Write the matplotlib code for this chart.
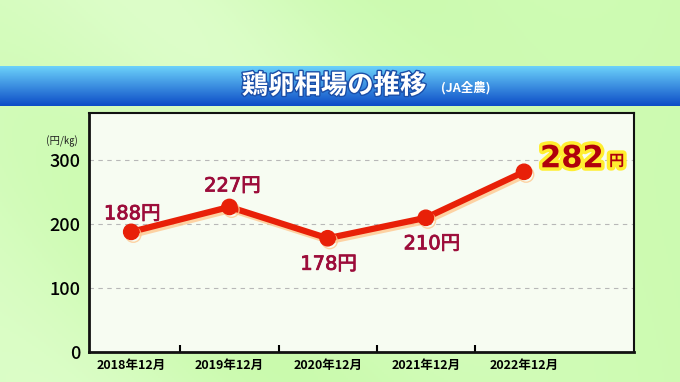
import numpy as np
import matplotlib
matplotlib.use("Agg")
from matplotlib import pyplot as plt
from matplotlib import patheffects as pe

plt.rcParams['font.family'] = ['Noto Sans CJK JP', 'DejaVu Sans']

# data
months = ['2018年12月', '2019年12月', '2020年12月', '2021年12月', '2022年12月']
prices = [188, 227, 178, 210, 282]
price_labels = ['188円', '227円', '178円', '210円', '282円']
yticks = [0, 100, 200, 300]

fig = plt.figure(figsize=(6.8, 3.82), dpi=100)

# green background with soft light streaks
bg = fig.add_axes([0, 0, 1, 1], zorder=-10)
h, w = 191, 340
yy, xx = np.mgrid[0:h, 0:w] / np.array([h, w])[:, None, None]
base = np.array([0.78, 0.98, 0.66])
light = np.array([0.90, 1.0, 0.84])
mix = 0.5 + 0.35 * np.sin(6 * (xx * 1.2 - yy * 0.8)) * np.exp(-((xx - 0.35) ** 2) / 0.15)
mix = np.clip(mix, 0, 1) * (1 - 0.6 * xx)
img = base[None, None, :] * (1 - mix[..., None]) + light[None, None, :] * mix[..., None]
bg.imshow(img, aspect='auto', extent=[0, 1, 0, 1], origin='upper')
bg.set_xlim(0, 1)
bg.set_ylim(0, 1)
bg.axis('off')

# blue title band
band = fig.add_axes([0, 1 - 106 / 382, 1, 40 / 382], zorder=-5)
g = np.linspace(0, 1, 64)[:, None]
top = np.array([0.42, 0.82, 0.98])
bot = np.array([0.05, 0.30, 0.78])
cols = top * (1 - g[..., None]) + bot * g[..., None]
cols = np.repeat(cols, 4, axis=1)
band.imshow(cols, aspect='auto', extent=[0, 1, 0, 1], origin='upper')
band.axis('off')

fig.text(334 / 680, 1 - 86 / 382, '鶏卵相場の推移', color='white', fontsize=19,
         fontweight='bold', ha='center', va='center',
         path_effects=[pe.withStroke(linewidth=2, foreground='#1a4ea8')])
fig.text(466 / 680, 1 - 88 / 382, '(JA全農)', color='white', fontsize=9,
         fontweight='bold', ha='center', va='center')

# chart area
ax = fig.add_axes([89 / 680, 1 - 352 / 382, 545 / 680, 239 / 382])
ax.set_facecolor('#f7fcf2')
x = np.arange(len(prices))
ax.plot(x, prices, color='#e82008', lw=4.5, marker='o', ms=11,
        solid_capstyle='round', zorder=3,
        path_effects=[pe.SimpleLineShadow(offset=(1.5, -2), shadow_color='#ffc890', alpha=0.8),
                      pe.Normal()])
ax.set_xlim(-0.43, 5.12)
ax.set_ylim(0, 374)

ax.set_yticks(yticks)
ax.set_yticklabels([str(v) for v in yticks], fontsize=13, fontweight='medium')
for v in yticks[1:]:
    ax.axhline(v, color='#b8b8b8', lw=0.8, ls=(0, (4, 4)), zorder=1)

ax.set_xticks(np.arange(len(prices) - 1) + 0.5)
ax.set_xticks(np.arange(len(prices)), minor=True)
ax.set_xticklabels([])
ax.set_xticklabels(months, minor=True, fontsize=9, fontweight='bold')
ax.tick_params(axis='x', which='major', length=5, width=1.5, direction='in')
ax.tick_params(axis='x', which='minor', length=0, pad=5)
ax.tick_params(axis='y', length=0, pad=6)
for s in ax.spines.values():
    s.set_color('#111111')
    s.set_linewidth(1.5)
ax.spines['bottom'].set_linewidth(2)
ax.spines['left'].set_linewidth(2)

lab_font = ['DejaVu Sans', 'Noto Sans CJK JP']
offsets = [(1, 18), (3, 21), (1, -26), (6, -26)]
for i, (dx, dy) in enumerate(offsets):
    ax.annotate(price_labels[i], (x[i], prices[i]), xytext=(dx, dy),
                textcoords='offset pixels', ha='center', va='center',
                fontsize=14, color='#9c0c3a', family=lab_font, zorder=4,
                path_effects=[pe.withStroke(linewidth=0.6, foreground='#9c0c3a')])

# last value highlighted
glow = [pe.withStroke(linewidth=5, foreground='#ffee30')]
ax.annotate('282', (x[4], prices[4]), xytext=(16, 13), textcoords='offset pixels',
            ha='left', va='center', fontsize=22, fontweight='bold', family=lab_font,
            color='#b0000c', path_effects=glow, zorder=4)
ax.annotate('円', (x[4], prices[4]), xytext=(85, 11), textcoords='offset pixels',
            ha='left', va='center', fontsize=11, fontweight='bold',
            color='#b0000c', path_effects=glow, zorder=4)

fig.text(62 / 680, 1 - 141 / 382, '(円/㎏)', fontsize=7.5, ha='center', va='center',
         color='#222222')

fig.savefig('out.png', dpi=100)
